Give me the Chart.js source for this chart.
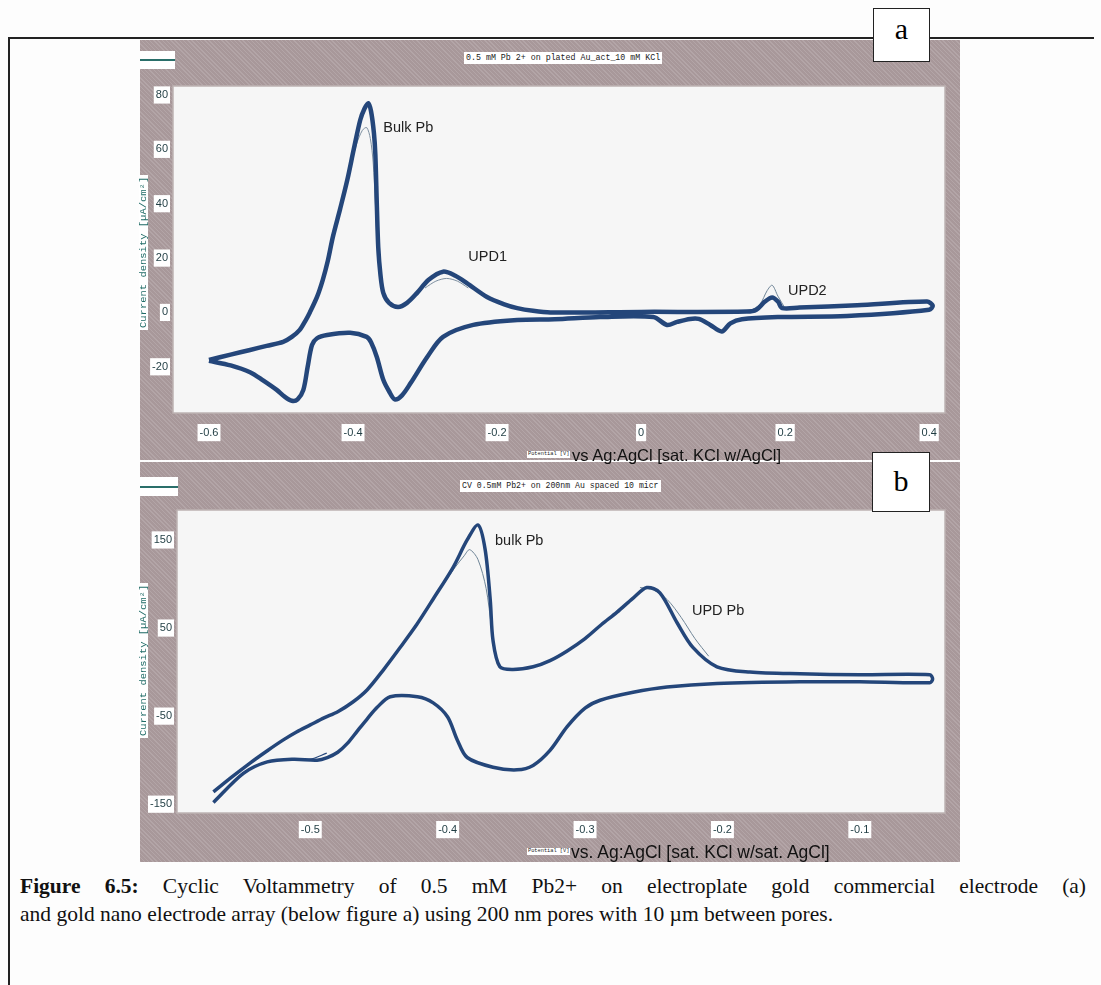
<!DOCTYPE html>
<html>
<head>
<meta charset="utf-8">
<script src="https://cdn.jsdelivr.net/npm/chart.js@4"></script>
<style>
  body { margin: 0; width: 1101px; height: 985px; background: #fdfdfd; position: relative; overflow: hidden; font-family: "Liberation Sans", Arial, sans-serif; }
  .abs { position: absolute; }
  .panel { position: absolute; left: 140px; width: 820px;
    background-color: #a8989a;
    background-image: repeating-linear-gradient(45deg, rgba(255,255,255,0.13) 0 1px, rgba(0,0,0,0) 1px 3px); }
  .tbox { position: absolute; background: #fff; color: #222; font-family: "Liberation Mono", monospace; white-space: nowrap; line-height: 1; }
  .letter { position: absolute; background: #fff; border: 1.5px solid #222; font-family: "Liberation Serif", serif; font-size: 30px; text-align: center; box-sizing: border-box; }
  .ytitle { position: absolute; background: #fff; color: #1f6b66; font-family: "Liberation Mono", monospace; font-size: 10.5px; white-space: nowrap; line-height: 1; padding: 0 2px; transform-origin: 0 0; }
  .xsub { position: absolute; color: #111; font-family: "Liberation Sans", sans-serif; font-size: 16.5px; white-space: nowrap; line-height: 1; }
  .cap { position: absolute; left: 20px; width: 1066px; font-family: "Liberation Serif", serif; font-size: 21.5px; color: #111; line-height: 28px; }
</style>
</head>
<body>
<div class="abs" style="left:8px; top:37px; width:1086px; height:1.5px; background:#222;"></div>
<div class="abs" style="left:8px; top:37px; width:1.5px; height:948px; background:#222;"></div>

<div class="panel" style="top:40px; height:420px;"><canvas id="cvA" width="820" height="420"></canvas></div>
<div class="panel" style="top:462px; height:400px;"><canvas id="cvB" width="820" height="400"></canvas></div>

<!-- legend stubs -->
<div class="abs" style="left:140px; top:51px; width:35px; height:18px; background:#fff;"><div class="abs" style="left:0; top:8px; width:35px; height:1.5px; background:#2a6f6a;"></div></div>
<div class="abs" style="left:140px; top:477px; width:38px; height:19px; background:#fff;"><div class="abs" style="left:0; top:9px; width:38px; height:1.5px; background:#2a6f6a;"></div></div>

<!-- chart titles -->
<div class="tbox" style="left:464px; top:52px; font-size:8.3px; padding:2px 2px;">0.5 mM Pb 2+ on plated Au_act_10 mM KCl</div>
<div class="tbox" style="left:460px; top:480px; font-size:8.2px; padding:2px 2px;">CV 0.5mM Pb2+ on 200nm Au spaced 10 micr</div>

<!-- y axis titles -->
<div class="ytitle" style="left:139px; top:330px; transform: rotate(-90deg) scaleY(0.82);">Current density [µA/cm²]</div>
<div class="ytitle" style="left:139px; top:738px; transform: rotate(-90deg) scaleY(0.82);">Current density [µA/cm²]</div>

<!-- x axis titles -->
<div class="tbox" style="left:527px; top:451px; font-size:5.3px; padding:1px 1px;">Potential [V]</div>
<div class="xsub" style="left:572px; top:447px;">vs Ag:AgCl [sat. KCl w/AgCl]</div>
<div class="tbox" style="left:527px; top:848px; font-size:5.3px; padding:1px 1px;">Potential [V]</div>
<div class="xsub" style="left:571px; top:844px; font-size:17.5px;">vs. Ag:AgCl [sat. KCl w/sat. AgCl]</div>

<div class="letter" style="left:873px; top:8px; width:57px; height:54px; line-height:40px;">a</div>
<div class="letter" style="left:872px; top:452px; width:58px; height:60px; line-height:56px;">b</div>

<div class="cap" style="top:872px; text-align:justify; text-align-last:justify;"><b>Figure 6.5:</b> Cyclic Voltammetry of 0.5 mM Pb2+ on electroplate gold commercial electrode (a)</div>
<div class="cap" style="top:900px;">and gold nano electrode array (below figure a) using 200 nm pores with 10 µm between pores.</div>

<script>
// ---- chart a : plated Au, potential (V) and current density (uA/cm2)
var potA = [-0.600, -0.57, -0.543, -0.52, -0.497, -0.485, -0.474, -0.466, -0.46, -0.45, -0.442, -0.435, -0.428, -0.418, -0.408, -0.399, -0.39, -0.384, -0.379, -0.375, -0.371, -0.369, -0.367, -0.365, -0.362, -0.358, -0.35, -0.3375, -0.325, -0.311, -0.295, -0.275, -0.258, -0.242, -0.214, -0.19, -0.172, -0.15, -0.126, 0.0, 0.147, 0.16, 0.172, 0.182, 0.19, 0.196, 0.22, 0.3, 0.397, 0.405,
            0.4, 0.286, 0.193, 0.14, 0.124, 0.112, 0.096, 0.08, 0.068, 0.05, 0.036, 0.017, -0.057, -0.12, -0.172, -0.233, -0.275, -0.297, -0.32, -0.332, -0.342, -0.35, -0.358, -0.367, -0.375, -0.381, -0.404, -0.436, -0.45, -0.457, -0.463, -0.469, -0.477, -0.485, -0.495, -0.506, -0.525, -0.543, -0.57, -0.6]
var curA = [-17.5, -15.5, -13.8, -12.3, -10.8, -9, -6.4, -3, 0, 5.7, 12, 19, 27.8, 38, 48.7, 60, 70.8, 75, 77, 74, 66, 58, 40, 24, 14, 7.2, 3.5, 2, 3.5, 7.2, 12, 15, 13.5, 10.8, 5.7, 3, 1.6, 0.6, 0, 0.2, 0.3, 1, 4, 5.5, 4, 1.6, 1.8, 2.6, 4, 2.5,
            1, -1.3, -1.7, -2.5, -4, -7, -4.6, -2.4, -2.4, -3.5, -4.6, -1.7, -1.7, -2.5, -2.8, -4.6, -9, -16.4, -26, -30.5, -32, -29, -24.8, -16.4, -11, -9, -7.5, -8.3, -9.5, -12, -20, -28.5, -32, -32.5, -31, -28.5, -25, -22, -19.5, -17.8]
// first scans (thin lines) near the stripping peaks
var firstPotA = [-0.405, -0.395, -0.387, -0.381, -0.376, -0.372, -0.369, -0.366]
var firstCurA = [52, 62, 67, 68, 64, 55, 40, 20]
var upd1PotA = [-0.3, -0.285, -0.27, -0.255, -0.24]
var upd1CurA = [9, 11.5, 12.5, 11.5, 9]
var upd2PotA = [0.15, 0.165, 0.175, 0.182, 0.19, 0.2]
var upd2CurA = [0.3, 3, 8, 10, 6, 1.5]
var xTicksA = [-0.6, -0.4, -0.2, 0, 0.2, 0.4]
var yTicksA = [-20, 0, 20, 40, 60, 80]
var peakTextA = ['Bulk Pb', 'UPD1', 'UPD2']
var peakPotA = [-0.358, -0.24, 0.204]
var peakCurA = [68, 20.4, 7.9]

// ---- chart b : nano electrode array
var potB = [-0.5705, -0.557, -0.5436, -0.531, -0.5196, -0.51, -0.5, -0.49, -0.48, -0.469, -0.4585, -0.447, -0.435, -0.4225, -0.4105, -0.396, -0.3858, -0.3778, -0.3727, -0.369, -0.367, -0.362, -0.3524, -0.3378, -0.3255, -0.313, -0.3, -0.288, -0.2767, -0.265, -0.255, -0.2455, -0.233, -0.2215, -0.204, -0.18, -0.1436, -0.1, -0.049,
            -0.047, -0.049, -0.1, -0.1436, -0.204, -0.2404, -0.265, -0.289, -0.3, -0.313, -0.3255, -0.3378, -0.3495, -0.367, -0.3858, -0.393, -0.4, -0.4105, -0.422, -0.4418, -0.4513, -0.4585, -0.4658, -0.473, -0.48, -0.4876, -0.495, -0.5124, -0.5313, -0.5487, -0.5705]
var curB = [-136, -119, -103, -89, -77, -68, -60, -52, -45, -34, -20, 2, 27, 54, 83, 119, 150, 167, 139, 82, 36, 6, 3, 6, 13, 24, 38, 54, 68, 84, 96, 90, 56, 28, 6, 0, -2, -3, -3,
            -8, -12, -11, -11, -13, -17, -23, -32, -41, -62, -89, -106, -111, -108, -97, -77, -51, -35, -28, -28, -40, -53, -67, -81, -91, -97, -100, -99, -102, -115, -148]
var firstPotB = [-0.43, -0.41, -0.395, -0.388, -0.384, -0.378, -0.372, -0.368, -0.364]
var firstCurB = [38, 84, 118, 132, 139, 128, 95, 50, 10]
var updPotB = [-0.26, -0.25, -0.24, -0.23, -0.22, -0.21]
var updCurB = [96, 93, 82, 62, 38, 18]
var tailPotB = [-0.51, -0.5, -0.488]
var tailCurB = [-100, -99, -92]
var xTicksB = [-0.5, -0.4, -0.3, -0.2, -0.1]
var yTicksB = [-150, -50, 50, 150]
var peakTextB = ['bulk Pb', 'UPD Pb']
var peakPotB = [-0.3655, -0.2222]
var peakCurB = [149, 69]

function pts(xs, ys) {
    return xs.map((v, i) => ({ x: v, y: ys[i] }))
}

const plotBox = {
    id: 'plotBox',
    beforeDatasetsDraw(chart) {
        const a = chart.chartArea, ctx = chart.ctx
        ctx.save()
        ctx.fillStyle = '#f6f6f6'
        ctx.fillRect(a.left, a.top, a.right - a.left, a.bottom - a.top)
        ctx.restore()
    },
    afterDraw(chart, args, opts) {
        const a = chart.chartArea, ctx = chart.ctx
        ctx.save()
        ctx.strokeStyle = '#bdb3b3'
        ctx.lineWidth = 1.5
        ctx.strokeRect(a.left, a.top, a.right - a.left, a.bottom - a.top)
        ctx.fillStyle = '#222'
        ctx.font = '14.5px "Liberation Sans", sans-serif'
        ctx.textBaseline = 'middle'
        opts.text.forEach((t, i) => {
            ctx.fillText(t, chart.scales.x.getPixelForValue(opts.pot[i]), chart.scales.y.getPixelForValue(opts.cur[i]))
        })
        ctx.restore()
    }
}

function createCV(id, sets, xr, yr, xTicks, yTicks, pad, yWidth, xHeight, xPad, labels) {
    const ctx = document.getElementById(id).getContext('2d')
    return new Chart(ctx, {
        type: 'scatter',
        data: { datasets: sets },
        options: {
            responsive: false,
            animation: false,
            devicePixelRatio: 1,
            layout: { padding: pad },
            plugins: { legend: { display: false }, tooltip: { enabled: false }, plotBox: labels },
            scales: {
                x: {
                    type: 'linear', min: xr[0], max: xr[1],
                    afterBuildTicks: s => { s.ticks = xTicks.map(v => ({ value: v })) },
                    afterFit: s => { s.height = xHeight },
                    grid: { color: 'rgba(196,170,176,0.9)', lineWidth: 1, drawTicks: false },
                    border: { display: false },
                    ticks: { padding: xPad, color: '#1f3c42', font: { family: 'Liberation Sans', size: 11 },
                             showLabelBackdrop: true, backdropColor: '#ffffff', backdropPadding: { x: 2, y: 2 } }
                },
                y: {
                    type: 'linear', min: yr[0], max: yr[1],
                    afterBuildTicks: s => { s.ticks = yTicks.map(v => ({ value: v })) },
                    afterFit: s => { s.width = yWidth },
                    grid: { color: 'rgba(196,170,176,0.9)', lineWidth: 1, drawTicks: false },
                    border: { display: false },
                    ticks: { padding: 5, color: '#1f3c42', font: { family: 'Liberation Sans', size: 11 },
                             showLabelBackdrop: true, backdropColor: '#ffffff', backdropPadding: { x: 2, y: 2 } }
                }
            }
        },
        plugins: [plotBox]
    })
}

function line(data, color, width) {
    return { data: data, showLine: true, borderColor: color, borderWidth: width, pointRadius: 0, tension: 0.3, fill: false }
}

createCV('cvA', [
    line(pts(potA, curA), '#24467a', 4.5),
    line(pts(firstPotA, firstCurA), '#7d8fa0', 1),
    line(pts(upd1PotA, upd1CurA), '#7d8fa0', 1),
    line(pts(upd2PotA, upd2CurA), '#6f8597', 1)
], [-0.65, 0.422], [-37, 83.3], xTicksA, yTicksA, { top: 46, right: 15, left: 0, bottom: 0 }, 33, 47, 13,
   { text: peakTextA, pot: peakPotA, cur: peakCurA })

createCV('cvB', [
    line(pts(potB, curB), '#24467a', 3.5),
    line(pts(firstPotB, firstCurB), '#6f8597', 1),
    line(pts(updPotB, updCurB), '#6f8597', 1),
    line(pts(tailPotB, tailCurB), '#24467a', 1.2)
], [-0.597, -0.038], [-160, 184], xTicksB, yTicksB, { top: 48, right: 15, left: 0, bottom: 0 }, 37, 49, 10,
   { text: peakTextB, pot: peakPotB, cur: peakCurB })
</script>
</body>
</html>
